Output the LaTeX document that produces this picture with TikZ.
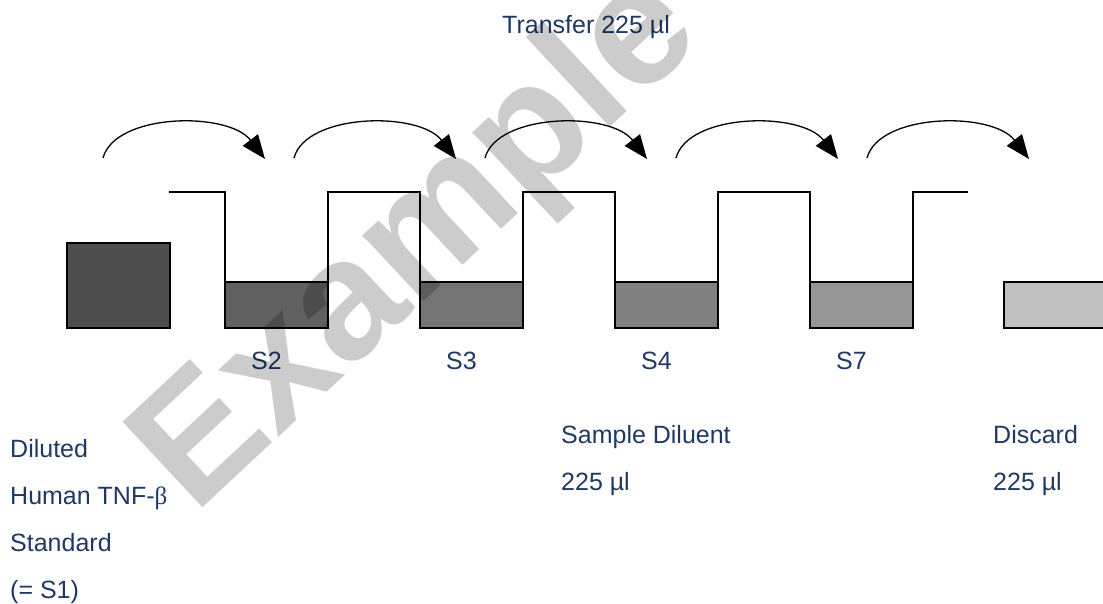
\documentclass[tikz,border=0pt]{standalone}
\usepackage{fontspec}
\setmainfont{Liberation Sans}
\newfontfamily\betafont{Liberation Serif}
\usepackage{tikz}
\usetikzlibrary{arrows.meta}
\usetikzlibrary{positioning, calc}

\definecolor{labelblue}{RGB}{31,56,100}
\definecolor{tubeA}{RGB}{77,77,77}
\definecolor{tubeB}{RGB}{96,96,96}
\definecolor{tubeC}{RGB}{116,116,116}
\definecolor{tubeD}{RGB}{128,128,128}
\definecolor{tubeE}{RGB}{150,150,150}
\definecolor{tubeF}{RGB}{192,192,192}

\begin{document}
\begin{tikzpicture}[x=1pt,y=-1pt]
\useasboundingbox (0,0) rectangle (1103,603);
\clip (0,0) rectangle (1103,603);

\begin{scope}[every node/.style={draw=black,line width=1.5pt,inner sep=0pt,outer sep=0pt,
                                 minimum width=103pt,minimum height=46pt}]
    \node[fill=tubeA,minimum height=85pt] (S1) at (118.5,285.5) {};
    \node[fill=tubeB] (S2) at (276.5,305) {};
    \node[fill=tubeC] (S3) at (471.5,305) {};
    \node[fill=tubeD] (S4) at (666.5,305) {};
    \node[fill=tubeE] (S7) at (861.5,305) {};
    \node[fill=tubeF] (W) at (1055.5,305) {};
\end{scope}

% rims between the tubes
\coordinate (rimL) at (169,192);
\coordinate (rimR) at (968,192);
\begin{scope}[line width=1.5pt]
    \draw (rimL) -| (S2.north west);
    \foreach \a/\b in {S2/S3,S3/S4,S4/S7}
        \draw (\a.north east) -- ++(0,-90) -| (\b.north west);
    \draw (S7.north east) |- (rimR);
\end{scope}

% transfer arrows
\begin{scope}[>={Triangle[length=24pt,width=19pt]}, line width=1.3pt]
    \foreach \x [count=\i] in {103,294,485,676,867} {
        \coordinate (from\i) at (\x,158);
        \coordinate (to\i) at (\x+162,159);
        \draw [->] (from\i) .. controls +(12,-45) and +(-37,-48) .. (to\i);
    }
\end{scope}

\begin{scope}[every node/.style={anchor=base west,inner sep=0pt,text=labelblue,
                                 font=\fontsize{25}{30}\selectfont}]
    \node (transfer) at (502,33) {Transfer 225 µl};
    \node (lS2) at (251,369) {S2};
    \node (lS3) at (446,369) {S3};
    \node (lS4) at (641,369) {S4};
    \node (lS7) at (836,369) {S7};
    \node (std1) at (10,457) {Diluted};
    \node (std2) at (10,504) {Human TNF-{\betafont β}};
    \node (std3) at (10,551) {Standard};
    \node (std4) at (10,598) {(= S1)};
    \node (dil1) at (561,443) {Sample Diluent};
    \node (dil2) at (561,490) {225 µl};
    \node (dis1) at (993,443) {Discard};
    \node (dis2) at (993,490) {225 µl};
\end{scope}

% watermark
\node[rotate=43,opacity=0.2,text=black,inner sep=0pt,
      font=\fontsize{170}{170}\selectfont\bfseries] (mark) at (420,245) {Example};
\end{tikzpicture}
\end{document}
